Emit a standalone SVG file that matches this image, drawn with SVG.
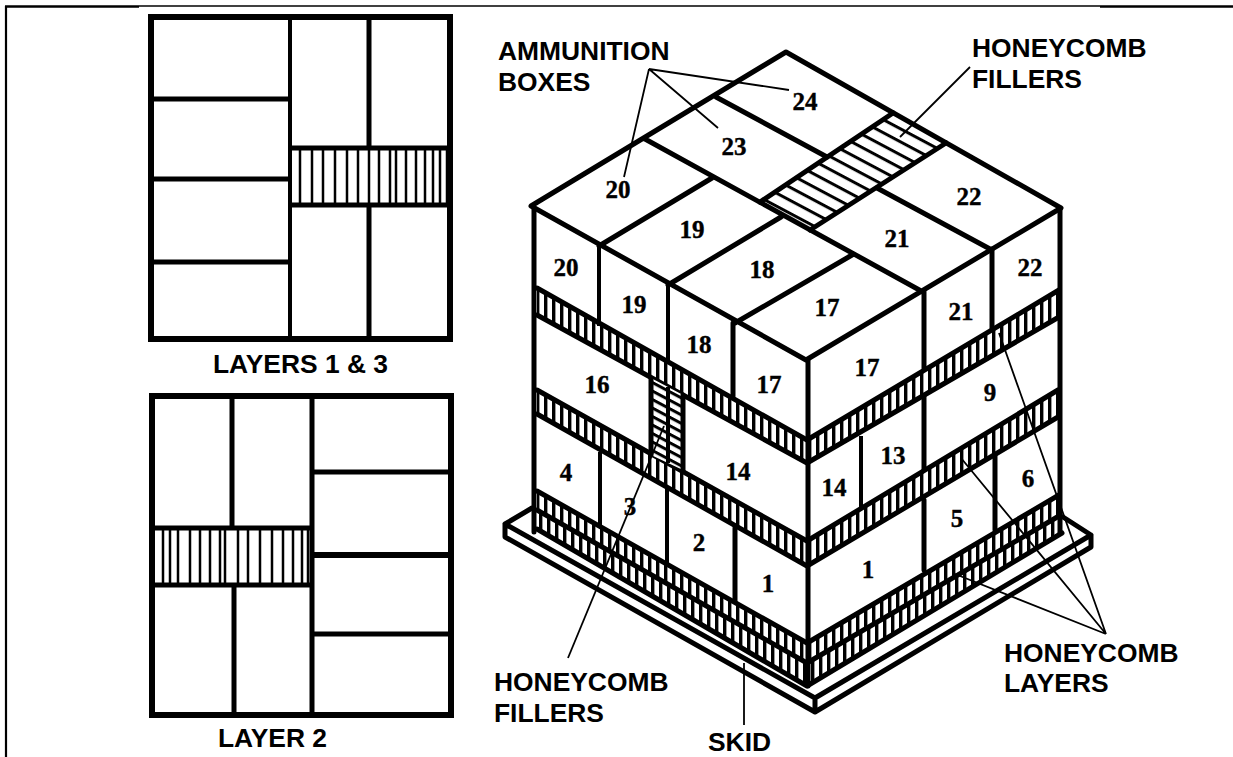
<svg xmlns="http://www.w3.org/2000/svg" width="1233" height="757" viewBox="0 0 1233 757">
<style>
.l{font:bold 26.4px "Liberation Sans",Arial,sans-serif;fill:#000}
.n{font:bold 25px "Liberation Serif","Times New Roman",serif;fill:#000;text-anchor:middle;stroke:#000;stroke-width:.4}
.e{fill:none;stroke:#000;stroke-width:5;stroke-linecap:round;stroke-linejoin:round}
.t{fill:none;stroke:#000;stroke-width:4}
.p{fill:none;stroke:#000;stroke-width:5}
.p6{fill:none;stroke:#000;stroke-width:6}
.p4{fill:none;stroke:#000;stroke-width:4}
.h{stroke:#000;stroke-width:2.5;fill:none}
.c{fill:none;stroke:#000;stroke-width:1.8}
</style>
<defs>
<pattern id="cells" patternUnits="userSpaceOnUse" width="8" height="10"><rect width="3.4" height="10" fill="#000"/></pattern>
<pattern id="cells2" patternUnits="userSpaceOnUse" x="3" width="8" height="10"><rect width="3.4" height="10" fill="#000"/></pattern>
<pattern id="hatchTop" patternUnits="userSpaceOnUse" width="20" height="11.5" patternTransform="rotate(28)"><rect width="20" height="3" fill="#000"/></pattern>
<pattern id="hatchSide" patternUnits="userSpaceOnUse" width="30" height="7.5" patternTransform="rotate(28)"><rect width="30" height="3" fill="#000"/></pattern>
</defs>
<rect width="1233" height="757" fill="#fff"/>
<g id="frame">
<path d="M6 6V757" fill="none" stroke="#000" stroke-width="2.2"/>
<path d="M5 6.5H139M1100 6.5H1233" fill="none" stroke="#000" stroke-width="2.4"/>
<path d="M139 6H1100" fill="none" stroke="#000" stroke-width="1.4"/>
</g>

<g id="layers-1-3">
<rect class="p6" x="151" y="17" width="299" height="322"/>
<path class="p4" d="M290 17V339"/>
<path class="p" d="M369 17V148M369 205V339M153 99H290M153 179H290M153 262H290M290 148H450M290 205H450"/>
<path class="h" d="M300 148V205M312 148V205M323 148V205M335 148V205M347 148V205M358 148V205M369 148V205M379 148V205M390 148V205M396 148V205M406 148V205M416 148V205M425 148V205M433 148V205M440 148V205M447 148V205"/>
<text class="l" x="213" y="373">LAYERS 1 &amp; 3</text>
</g>

<g id="layer-2">
<rect class="p6" x="152" y="396" width="299" height="319"/>
<path class="p" d="M232 396V526M234 585V715M312 396V715M312 472H451M312 634H451M152 528H312M152 585H312"/>
<path class="p6" d="M312 555H451"/>
<path class="h" d="M163 528V585M170 528V585M178 528V585M190 528V585M200 528V585M210 528V585M220 528V585M225 528V585M238 528V585M248 528V585M260 528V585M272 528V585M283 528V585M293 528V585M302 528V585M308 528V585"/>
<text class="l" x="218" y="747">LAYER 2</text>
</g>

<g id="skid">
<path class="e" d="M505 524L532 508M1063 517L1091 535M505 524L815 698L1091 535V547L815 712L505 537ZM815 698V712"/>
</g>

<g id="stack">
<path d="M537 288L807 440V463L537 315ZM807 440L1059 290V317L807 463ZM537 390L807 541V566L537 414ZM807 541L1058 390V417L807 566Z" fill="url(#cells)"/>
<path d="M537 491L807 643V663L537 510ZM807 643L1059 495V516L807 663Z" fill="url(#cells)"/>
<path d="M537 510L807 663V686L537 529ZM807 663L1059 516L1062 533L807 686Z" fill="url(#cells2)"/>
<path class="e" d="M531 206L786 52L1061 208L806 360ZM716 97L827 157M645 139L923 292M599 246L712 178M668 285L781 217M735 323L852 255M877 188L990 249"/>
<path class="e" d="M760 202L893 113M946 143L810 230"/>
<path d="M760 202L893 113L946 143L810 230Z" fill="url(#hatchTop)"/>
<path class="e" d="M537 288L807 440L1059 290M537 315L807 463L1059 317M537 390L807 541L1058 390M537 414L807 566L1058 417M537 491L807 643L1059 495M537 510L807 663L1059 516M537 529L807 686L1062 533"/>
<path class="t" d="M599 246V326M668 285V362M861 436V508M600 452V526M667 488V563"/>
<path class="e" d="M733 323V396M924 292V368M992 249V328M995 456V530M924 397V469M924 500V570M735 528V601"/>
<path class="e" d="M534 208V532M808 360V686M1060 208V533"/>
<path d="M651 378L668 387L683 395V470L668 463L651 455Z" fill="#fff"/>
<path d="M651 378L668 387L683 395V470L668 463L651 455Z" fill="url(#hatchSide)"/>
<path class="e" d="M651 378V455M683 395V470"/>
<path class="t" d="M668 387V463"/>
</g>

<g id="numbers">
<text class="n" x="805" y="110">24</text>
<text class="n" x="734" y="155">23</text>
<text class="n" x="618" y="198">20</text>
<text class="n" x="692" y="238">19</text>
<text class="n" x="762" y="278">18</text>
<text class="n" x="827" y="316">17</text>
<text class="n" x="897" y="247">21</text>
<text class="n" x="969" y="205">22</text>
<text class="n" x="566" y="276">20</text>
<text class="n" x="634" y="313">19</text>
<text class="n" x="699" y="353">18</text>
<text class="n" x="867" y="376">17</text>
<text class="n" x="961" y="320">21</text>
<text class="n" x="1030" y="276">22</text>
<text class="n" x="597" y="393">16</text>
<text class="n" x="769" y="393">17</text>
<text class="n" x="566" y="481">4</text>
<text class="n" x="630" y="515">3</text>
<text class="n" x="738" y="480">14</text>
<text class="n" x="699" y="551">2</text>
<text class="n" x="768" y="592">1</text>
<text class="n" x="834" y="496">14</text>
<text class="n" x="893" y="464">13</text>
<text class="n" x="990" y="401">9</text>
<text class="n" x="1028" y="487">6</text>
<text class="n" x="957" y="527">5</text>
<text class="n" x="868" y="578">1</text>
</g>

<g id="connectors">
<path class="c" d="M649 69L789 90M649 69L718 128M649 69L624 177"/>
<path class="c" d="M970 67L900 137"/>
<path class="c" d="M999 333L1106 634M961 458L1106 634M955 574L1106 634"/>
<path class="c" d="M664 426L568 658"/>
<path class="c" d="M744 663V725"/>
</g>

<g id="labels">
<text class="l" x="498" y="60">AMMUNITION</text>
<text class="l" x="498" y="91">BOXES</text>
<text class="l" x="972" y="57">HONEYCOMB</text>
<text class="l" x="972" y="88">FILLERS</text>
<text class="l" x="494" y="691">HONEYCOMB</text>
<text class="l" x="494" y="722">FILLERS</text>
<text class="l" x="1004" y="662">HONEYCOMB</text>
<text class="l" x="1004" y="692">LAYERS</text>
<text class="l" x="708" y="751">SKID</text>
</g>
</svg>
